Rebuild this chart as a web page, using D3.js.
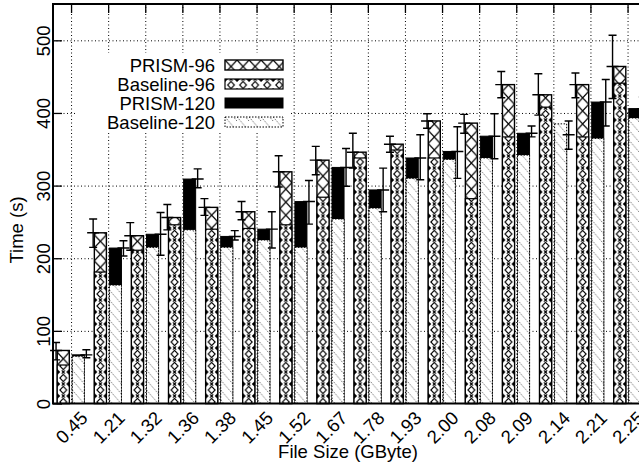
<!DOCTYPE html>
<html>
<head>
<meta charset="utf-8">
<script src="https://d3js.org/d3.v7.min.js"></script>
<style>
  body { margin: 0; background: #fff; }
  svg { display: block; }
</style>
</head>
<body>
<svg id="canvas"></svg>
<script>
/***********************************************************************/
// Data

var fileSizes = ['0.45', '1.21', '1.32', '1.36', '1.38', '1.45', '1.52', '1.67',
                 '1.78', '1.93', '2.00', '2.08', '2.09', '2.14', '2.21', '2.25'];

var prism96     = [73, 235, 231, 256, 270, 264, 319, 335, 346, 357, 389, 386, 439, 425, 439, 464];
var prism96Lo   = [60, 215, 211, 239, 259, 253, 298, 315, 324, 346, 379, 372, 421, 397, 421, 420];
var prism96Hi   = [84, 254, 249, 274, 282, 278, 341, 354, 372, 368, 399, 398, 457, 454, 455, 507];
var baseline96  = [53, 181, 211, 246, 240, 241, 246, 284, 338, 349, 338, 282, 367, 408, 367, 441];

var prism120    = [67, 214, 233, 309, 230, 240, 278, 325, 294, 338, 347, 368, 372, 370, 415, 406];
var prism120Lo  = [63, 203, 204, 297, 225, 214, 247, 299, 264, 308, 310, 337, 367, 350, 382, 390];
var prism120Hi  = [74, 224, 263, 323, 238, 264, 307, 351, 324, 370, 381, 399, 382, 389, 446, 422];
var baseline120 = [65, 163, 215, 239, 215, 225, 215, 254, 269, 310, 336, 338, 342, 385, 365, 393];

var seriesNames = ['PRISM-96', 'Baseline-96', 'PRISM-120', 'Baseline-120'];
var yTicks = [0, 100, 200, 300, 400, 500];

/***********************************************************************/
// Layout

var width = 639, height = 463;
var plotLeft = 53, plotTop = 4, plotBottom = 403.5, catStep = 37.1;
var plotRight = plotLeft + catStep * fileSizes.length;
var fontStack = '"Liberation Sans", Arial, Helvetica, sans-serif';
var fontSize = 18.5;
var errOffset = { '96': -15.5, '120': 14.8 };

var svg = d3.select('#canvas').attr('width', width).attr('height', height);

var xScale = d3.scaleBand().domain(fileSizes).range([plotLeft, plotRight]);
var yScale = d3.scaleLinear().domain([0, 550]).range([plotBottom, plotTop]);
var subScale = d3.scaleBand().domain(['96', '120']).range([-14.3, 12.8]).paddingInner(0.2);
var bw = subScale.bandwidth();

function center(size){ return xScale(size) + xScale.bandwidth()/2; }

var seriesValues = { 'PRISM-96': prism96, 'Baseline-96': baseline96, 'PRISM-120': prism120, 'Baseline-120': baseline120 };
var seriesSlot = { 'PRISM-96': '96', 'Baseline-96': '96', 'PRISM-120': '120', 'Baseline-120': '120' };
var barStyles = {
  'PRISM-96':     { fill: 'url(#hatch-cross)',   dash: null,      sw: 1.4 },
  'Baseline-96':  { fill: 'url(#hatch-diamond)', dash: null,      sw: 1.2 },
  'PRISM-120':    { fill: '#000',                dash: null,      sw: 1 },
  'Baseline-120': { fill: 'url(#hatch-dots)',    dash: '1.5,1.5', sw: 1 }
};

/***********************************************************************/
// Fill patterns

var defs = svg.append('defs');

var pCross = defs.append('pattern').attr('id', 'hatch-cross')
  .attr('patternUnits', 'userSpaceOnUse').attr('width', bw).attr('height', bw + 1);
pCross.append('rect').attr('width', bw).attr('height', bw + 1).attr('fill', '#fff');
pCross.append('path')
  .attr('d', 'M0,0L' + bw + ',' + (bw + 1) + 'M' + bw + ',0L0,' + (bw + 1))
  .attr('stroke', '#000').attr('stroke-width', 1.2);

var cx = bw/2;
var pDiam = defs.append('pattern').attr('id', 'hatch-diamond')
  .attr('patternUnits', 'userSpaceOnUse').attr('width', bw).attr('height', 12);
pDiam.append('rect').attr('width', bw).attr('height', 12).attr('fill', '#fff');
pDiam.append('path')
  .attr('d', 'M' + cx + ',2.4L' + (cx + 3.4) + ',6L' + cx + ',9.6L' + (cx - 3.4) + ',6Z')
  .attr('fill', 'none').attr('stroke', '#000').attr('stroke-width', 1.1);
[0, 12].forEach(yy => {
  pDiam.append('path')
    .attr('d', 'M' + (cx - 1.6) + ',' + (yy - 1.6) + 'l3.2,3.2m0,-3.2l-3.2,3.2')
    .attr('stroke', '#000').attr('stroke-width', 1.1);
  pDiam.append('path')
    .attr('d', 'M0,' + (yy - 3) + 'L3,' + yy + 'L0,' + (yy + 3) + 'Z' +
               'M' + bw + ',' + (yy - 3) + 'L' + (bw - 3) + ',' + yy + 'L' + bw + ',' + (yy + 3) + 'Z')
    .attr('fill', '#000');
});

var pDots = defs.append('pattern').attr('id', 'hatch-dots')
  .attr('patternUnits', 'userSpaceOnUse').attr('width', bw).attr('height', 10);
pDots.append('rect').attr('width', bw).attr('height', 10).attr('fill', '#fff');
d3.range(-2, 3).forEach(k => {
  pDots.append('path')
    .attr('d', 'M0,' + (k*10) + 'L' + bw + ',' + (k*10 + 14))
    .attr('stroke', '#000').attr('stroke-width', 0.8).attr('stroke-dasharray', '1,1.5');
});

/***********************************************************************/
// Grid and ticks

var gridH = svg.append('g').attr('transform', 'translate(' + plotLeft + ',0)')
  .call(d3.axisLeft(yScale).tickValues(yTicks.slice(1)).tickSize(-(plotRight - plotLeft)).tickFormat(''));
gridH.select('.domain').remove();
gridH.selectAll('line').attr('stroke', '#000').attr('stroke-width', 1).attr('stroke-dasharray', '1,2.5');

var gridV = svg.append('g').attr('transform', 'translate(0,' + plotBottom + ')')
  .call(d3.axisBottom(xScale).tickSize(-(plotBottom - plotTop)).tickFormat(''));
gridV.select('.domain').remove();
gridV.selectAll('line').attr('stroke', '#000').attr('stroke-width', 1).attr('stroke-dasharray', '1,2.5');

var topTicks = svg.append('g').attr('transform', 'translate(0,' + plotTop + ')')
  .call(d3.axisTop(xScale).tickSizeInner(-9).tickSizeOuter(0).tickFormat(''));
topTicks.select('.domain').remove();
topTicks.selectAll('line').attr('stroke', '#000').attr('stroke-width', 1.3);

/***********************************************************************/
// Bars (baseline drawn over its PRISM bar)

var barLayer = svg.append('g');
seriesNames.forEach(name => {
  var st = barStyles[name];
  var rows = fileSizes.map((s, i) => ({ size: s, value: seriesValues[name][i] }));
  barLayer.append('g').selectAll('g').data(rows).join('g')
    .attr('transform', d => 'translate(' + (center(d.size) + subScale(seriesSlot[name])) + ',0)')
    .append('rect')
      .attr('x', 0)
      .attr('width', bw)
      .attr('y', d => yScale(d.value))
      .attr('height', d => plotBottom - yScale(d.value))
      .attr('fill', st.fill)
      .attr('stroke', '#000')
      .attr('stroke-width', st.sw)
      .attr('stroke-dasharray', st.dash);
});

/***********************************************************************/
// Error bars

var errSets = [
  { slot: '96',  mean: prism96,  lo: prism96Lo,  hi: prism96Hi },
  { slot: '120', mean: prism120, lo: prism120Lo, hi: prism120Hi }
];
var errLayer = svg.append('g').attr('stroke', '#000').attr('stroke-width', 1.4).attr('fill', 'none');
errSets.forEach(set => {
  var rows = fileSizes.map((s, i) => ({ size: s, mean: set.mean[i], lo: set.lo[i], hi: set.hi[i] }));
  errLayer.append('g').selectAll('path').data(rows).join('path')
    .attr('d', d => {
      var x = center(d.size) + errOffset[set.slot];
      var yl = yScale(d.lo), yh = yScale(d.hi), ym = yScale(d.mean);
      return 'M' + x + ',' + yl + 'V' + yh +
             'M' + (x - 4) + ',' + yh + 'h8' +
             'M' + (x - 4) + ',' + yl + 'h8' +
             'M' + (x - 6) + ',' + ym + 'h12';
    });
});

/***********************************************************************/
// Legend

var legendRows = [65, 84, 103, 122];
var legend = svg.append('g');
legend.append('rect').attr('x', 76).attr('y', 53).attr('width', 214).attr('height', 80).attr('fill', '#fff');
seriesNames.forEach((name, i) => {
  var st = barStyles[name];
  legend.append('text')
    .attr('x', 215).attr('y', legendRows[i]).attr('dy', '0.36em')
    .attr('text-anchor', 'end')
    .attr('font-family', fontStack).attr('font-size', fontSize)
    .text(name);
  legend.append('g').attr('transform', 'translate(225,' + (legendRows[i] - 5) + ')')
    .append('rect')
      .attr('width', 58).attr('height', 10)
      .attr('fill', st.fill).attr('stroke', '#000')
      .attr('stroke-width', st.sw).attr('stroke-dasharray', st.dash);
});

/***********************************************************************/
// Axes, frame and labels

var yAxis = svg.append('g').attr('transform', 'translate(' + plotLeft + ',0)')
  .call(d3.axisLeft(yScale).tickValues(yTicks).tickSizeInner(-9).tickSizeOuter(0));
yAxis.select('.domain').remove();
yAxis.selectAll('line').attr('stroke', '#000').attr('stroke-width', 1.3);
yAxis.selectAll('text')
  .attr('x', 0).attr('dy', 0)
  .attr('transform', 'translate(-3,0) rotate(-90)')
  .attr('text-anchor', 'middle')
  .attr('fill', '#000')
  .attr('font-family', fontStack).attr('font-size', fontSize);

var xAxis = svg.append('g').attr('transform', 'translate(0,' + plotBottom + ')')
  .call(d3.axisBottom(xScale).tickSize(0));
xAxis.select('.domain').remove();
xAxis.selectAll('text')
  .attr('y', 0).attr('dy', 0)
  .attr('transform', 'translate(4.6,28.4) rotate(-45)')
  .attr('text-anchor', 'middle')
  .attr('fill', '#000')
  .attr('font-family', fontStack).attr('font-size', fontSize);

var frame = svg.append('g').attr('stroke', '#000').attr('stroke-width', 2).attr('fill', 'none');
frame.append('path').attr('d', 'M' + plotRight + ',' + plotTop + 'H' + plotLeft + 'V' + plotBottom + 'H' + plotRight);

svg.append('text')
  .attr('transform', 'translate(23,230) rotate(-90)')
  .attr('text-anchor', 'middle')
  .attr('font-family', fontStack).attr('font-size', fontSize)
  .text('Time (s)');

svg.append('text')
  .attr('x', 348).attr('y', 458)
  .attr('text-anchor', 'middle')
  .attr('font-family', fontStack).attr('font-size', fontSize)
  .text('File Size (GByte)');
</script>
</body>
</html>
